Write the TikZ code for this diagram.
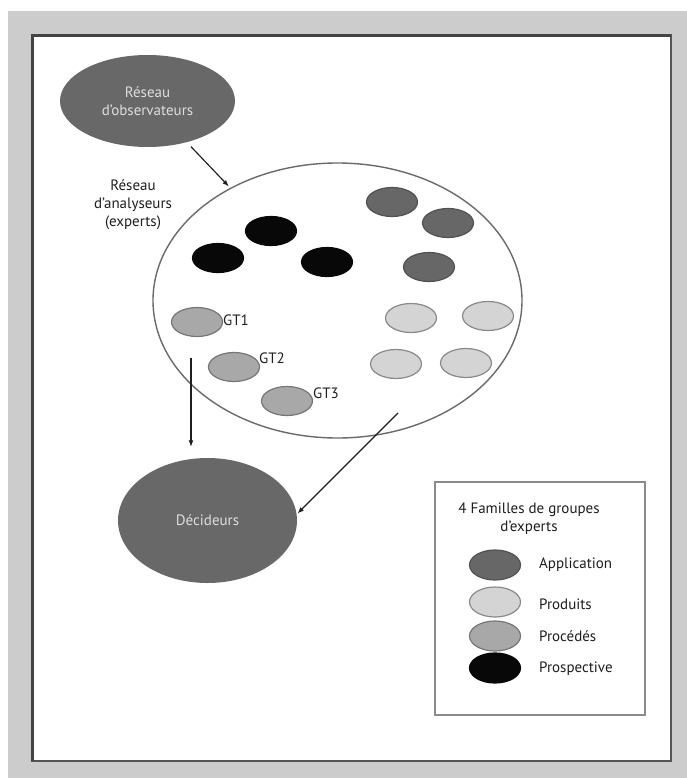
\documentclass[tikz,border=0pt]{standalone}
\usepackage{fontspec}
\setmainfont{PT Sans}
\usetikzlibrary{shapes.geometric,arrows.meta}

\definecolor{framegray}{HTML}{CCCCCC}
\definecolor{panelline}{HTML}{555555}
\definecolor{darkfill}{HTML}{686868}
\definecolor{appfill}{HTML}{676767}
\definecolor{appline}{HTML}{525252}
\definecolor{prodfill}{HTML}{D4D4D4}
\definecolor{prodline}{HTML}{8A8A8A}
\definecolor{procfill}{HTML}{A8A8A8}
\definecolor{procline}{HTML}{767676}
\definecolor{prosfill}{HTML}{080808}
\definecolor{inktext}{HTML}{1E1E1E}
\definecolor{lighttext}{HTML}{DDDDDD}
\definecolor{netline}{HTML}{6A6A6A}

\tikzset{
  txt/.style={font=\fontsize{15}{18}\selectfont, text=inktext, align=center, inner sep=0pt},
  bigdark/.style={ellipse, fill=darkfill, inner sep=0pt,
    font=\fontsize{15}{18}\selectfont, text=lighttext, align=center},
  grp/.style={ellipse, minimum width=51pt, minimum height=29pt, inner sep=0pt, line width=1.2pt, draw},
  appl/.style={grp, fill=appfill, draw=appline},
  prod/.style={grp, fill=prodfill, draw=prodline},
  proc/.style={grp, fill=procfill, draw=procline},
  pros/.style={grp, fill=prosfill, draw=prosfill},
  flow/.style={draw=inktext, line width=1.15pt, -{Latex[length=6.5pt,width=5pt]}}
}

\begin{document}
\begin{tikzpicture}[x=1pt,y=-1pt]
  \useasboundingbox (0,0) rectangle (687,778);
  % page and frame
  \fill[white] (0,0) rectangle (687,778);
  \fill[framegray] (8,11) rectangle (687,778);
  \fill[white] (32,35) rectangle (671,761);
  \draw[panelline, line width=1.5pt] (32,35) rectangle (671,761);
  \draw[panelline!80!black, line width=2.2pt] (32.5,761) -- (32.5,35.5) -- (671,35.5);

  % observers network
  \node[bigdark, minimum width=175pt, minimum height=92pt] (obs) at (147.5,101)
    {R\'eseau\\d'observateurs};

  % analysts network
  \node[ellipse, draw=netline, line width=1.4pt, minimum width=369pt, minimum height=275pt, inner sep=0pt]
    (net) at (337.5,300.5) {};
  \node[txt] (netlabel) at (133,205) {R\'eseau\\d'analyseurs\\(experts)};

  % expert groups inside the network
  \node[appl] (a1) at (392,202) {};
  \node[appl] (a2) at (448,223) {};
  \node[appl] (a3) at (429,267) {};
  \node[pros] (p1) at (271,231) {};
  \node[pros] (p2) at (218,258) {};
  \node[pros] (p3) at (327,262) {};
  \node[proc] (gt1) at (197,322) {};
  \node[proc] (gt2) at (234,367) {};
  \node[proc] (gt3) at (287,401) {};
  \node[prod] (d1) at (411,318) {};
  \node[prod] (d2) at (488,316) {};
  \node[prod] (d3) at (396,364) {};
  \node[prod] (d4) at (466,363) {};
  \node[txt, anchor=west] (gt1l) at (223,320) {GT1};
  \node[txt, anchor=west] (gt2l) at (259,358) {GT2};
  \node[txt, anchor=west] (gt3l) at (313,393) {GT3};

  % decision makers
  \node[bigdark, minimum width=179pt, minimum height=125pt] (dec) at (207.5,520.5) {D\'ecideurs};

  % connectors
  \coordinate (src1) at (191,358);
  \coordinate (src2) at (398,413);
  \draw[flow, shorten <=6pt, shorten >=2pt] (obs) -- (net);
  \draw[flow, shorten >=11pt] (src1) -- (src1 |- dec.north);
  \draw[flow, shorten >=1pt] (src2) -- (dec.4);

  % legend
  \draw[prodline, line width=1.4pt] (435,482) rectangle (645,715);
  \node[txt] (legtitle) at (529,519) {4 Familles de groupes\\d'experts};
  \node[appl, minimum height=30pt] (la) at (495,565) {};
  \node[prod, minimum height=30pt] (lb) at (495,602) {};
  \node[proc, minimum height=30pt] (lc) at (495,636) {};
  \node[pros, minimum height=30pt] (ld) at (495,668) {};
  \node[txt, anchor=west] (lat) at (539,565) {Application};
  \node[txt, anchor=west] (lbt) at (539,604) {Produits};
  \node[txt, anchor=west] (lct) at (539,636) {Proc\'ed\'es};
  \node[txt, anchor=west] (ldt) at (539,669) {Prospective};
\end{tikzpicture}
\end{document}
